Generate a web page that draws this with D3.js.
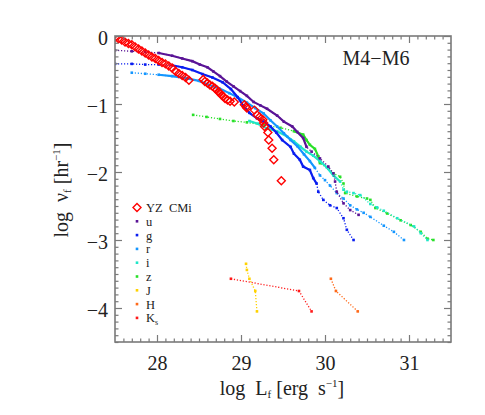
<!DOCTYPE html>
<html>
<head>
<meta charset="utf-8">
<script src="https://cdn.jsdelivr.net/npm/d3@7"></script>
<style>
  body { margin: 0; background: #fff; }
  text { font-family: "Liberation Serif", "DejaVu Serif", serif; fill: #222; }
</style>
</head>
<body>
<svg></svg>
<script>
const width = 485;
const height = 415;

// YZ CMi (red diamonds)
const yzX = [27.50, 27.54, 27.58, 27.62, 27.66, 27.70, 27.74, 27.78, 27.82, 27.86, 27.90, 27.94, 27.98, 28.02, 28.06, 28.10, 28.14, 28.18, 28.22, 28.26, 28.30, 28.34, 28.38,
  28.55, 28.57, 28.60, 28.63, 28.66, 28.69, 28.71, 28.73, 28.75, 28.77, 28.79, 28.81, 28.84, 28.87, 28.92, 29.04, 29.06, 29.07,
  29.16, 29.19, 29.22, 29.26, 29.27, 29.28, 29.32, 29.33, 29.37, 29.39, 29.48];
const yzY = [-0.02, -0.04, -0.06, -0.09, -0.11, -0.13, -0.16, -0.19, -0.22, -0.25, -0.28, -0.31, -0.33, -0.36, -0.39, -0.41, -0.44, -0.47, -0.52, -0.55, -0.58, -0.61, -0.65,
  -0.64, -0.67, -0.69, -0.72, -0.74, -0.77, -0.79, -0.82, -0.84, -0.87, -0.89, -0.92, -0.94, -0.96, -0.97, -1.01, -1.04, -1.06,
  -1.09, -1.16, -1.19, -1.23, -1.28, -1.33, -1.42, -1.53, -1.65, -1.82, -2.13];

// u
const uX = [27.50, 27.70, 27.86, 28.02, 28.18, 28.30, 28.42, 28.51, 28.60, 28.67, 28.75, 28.83, 28.91, 28.99, 29.07, 29.15, 29.23, 29.31, 29.43, 29.51, 29.61, 29.67, 29.74, 29.78, 29.84, 29.94, 30.04, 30.10, 30.12, 30.14, 30.22, 30.30, 30.40];
const uY = [-0.21, -0.225, -0.235, -0.25, -0.29, -0.33, -0.37, -0.42, -0.46, -0.52, -0.59, -0.67, -0.74, -0.81, -0.88, -0.97, -1.02, -1.07, -1.17, -1.26, -1.33, -1.41, -1.50, -1.63, -1.70, -1.80, -1.92, -2.02, -2.14, -2.29, -2.46, -2.56, -2.63];
// g
const gX = [27.50, 27.70, 27.86, 28.02, 28.18, 28.30, 28.42, 28.54, 28.66, 28.78, 28.88, 28.96, 29.03, 29.10, 29.19, 29.27, 29.35, 29.42, 29.49, 29.59, 29.63, 29.70, 29.74, 29.82, 29.86, 29.90, 29.92, 29.98, 30.06, 30.14, 30.22, 30.26, 30.34];
const gY = [-0.41, -0.41, -0.42, -0.42, -0.43, -0.46, -0.50, -0.56, -0.61, -0.68, -0.78, -0.90, -1.03, -1.13, -1.21, -1.26, -1.33, -1.42, -1.53, -1.63, -1.73, -1.82, -1.92, -1.97, -2.09, -2.17, -2.29, -2.41, -2.49, -2.53, -2.68, -2.85, -3.00];
// r
const rX = [27.70, 27.86, 28.02, 28.18, 28.34, 28.50, 28.62, 28.74, 28.86, 28.96, 29.07, 29.17, 29.27, 29.35, 29.43, 29.51, 29.59, 29.67, 29.75, 29.82, 29.88, 29.94, 30.00, 30.06, 30.14, 30.22, 30.30, 30.38, 30.46, 30.54, 30.70, 30.82, 30.94];
const rY = [-0.54, -0.555, -0.57, -0.59, -0.62, -0.66, -0.72, -0.77, -0.84, -0.90, -0.98, -1.06, -1.14, -1.24, -1.33, -1.43, -1.53, -1.62, -1.74, -1.84, -1.94, -2.05, -2.12, -2.20, -2.31, -2.39, -2.49, -2.55, -2.60, -2.66, -2.79, -2.88, -3.00];
// i
const iX = [29.10, 29.20, 29.31, 29.43, 29.55, 29.63, 29.71, 29.78, 29.86, 29.94, 30.02, 30.10, 30.18, 30.22, 30.26, 30.34, 30.42, 30.54, 30.62, 30.70, 30.86, 31.06, 31.14, 31.22];
const iY = [-1.25, -1.29, -1.36, -1.40, -1.48, -1.55, -1.63, -1.70, -1.76, -1.84, -1.93, -2.05, -2.14, -2.26, -2.29, -2.31, -2.34, -2.47, -2.52, -2.57, -2.68, -2.80, -2.90, -3.00];
// z
const zX = [28.43, 28.59, 28.75, 28.91, 29.07, 29.27, 29.47, 29.63, 29.74, 29.78, 29.82, 29.88, 29.92, 29.94, 30.04, 30.10, 30.18, 30.22, 30.24, 30.38, 30.50, 30.54, 30.60, 30.74, 30.90, 31.02, 31.14, 31.22, 31.29];
const zY = [-1.16, -1.19, -1.22, -1.25, -1.27, -1.31, -1.35, -1.40, -1.45, -1.53, -1.60, -1.66, -1.77, -1.87, -1.95, -2.02, -2.07, -2.17, -2.31, -2.36, -2.39, -2.41, -2.53, -2.61, -2.71, -2.78, -2.88, -2.98, -3.00];
// J, H, Ks
const jX = [29.06, 29.07, 29.10, 29.17, 29.19];
const jY = [-3.35, -3.44, -3.57, -3.75, -4.05];
const hX = [30.07, 30.13, 30.39];
const hY = [-3.57, -3.75, -4.05];
const kX = [28.88, 29.69, 29.84];
const kY = [-3.57, -3.75, -4.05];

// ranges where the flare points are packed tightly (drawn as a solid run)
const uDense = [28.0, 29.8];
const gDense = [28.1, 29.9];
const rDense = [28.0, 29.9];
const iDense = [29.1, 30.2];
const zDense = [29.6, 29.95];

const bandNames = ['u', 'g', 'r', 'i', 'z', 'J', 'H', 'K'];
const bandColors = ['#5a1496', '#0a1ef0', '#1496ff', '#20e6c8', '#28e028', '#ffd200', '#ff6a1a', '#ff1a1a'];

const xTicks = [28, 29, 30, 31];
const yTicks = [0, -1, -2, -3, -4];

const svg = d3.select('svg')
  .attr('width', width)
  .attr('height', height);

const x = d3.scaleLinear().domain([27.5, 31.5]).range([115, 451]);
const y = d3.scaleLinear().domain([-4.5, 0]).range([342, 36]);

const zip = (xs, ys) => xs.map((v, k) => [v, ys[k]]);
const line = d3.line().x(d => x(d[0])).y(d => y(d[1]));
const nb = '\u00a0';

svg.append('clipPath').attr('id', 'plot')
  .append('rect')
  .attr('x', x(27.5)).attr('y', y(0))
  .attr('width', x(31.5) - x(27.5)).attr('height', y(-4.5) - y(0));

const plot = svg.append('g').attr('clip-path', 'url(#plot)');

const series = [
  { pts: zip(zX, zY), color: bandColors[4], dense: zDense },
  { pts: zip(iX, iY), color: bandColors[3], dense: iDense },
  { pts: zip(rX, rY), color: bandColors[2], dense: rDense },
  { pts: zip(gX, gY), color: bandColors[1], dense: gDense },
  { pts: zip(uX, uY), color: bandColors[0], dense: uDense },
  { pts: zip(jX, jY), color: bandColors[5], dense: null },
  { pts: zip(hX, hY), color: bandColors[6], dense: null },
  { pts: zip(kX, kY), color: bandColors[7], dense: null }
];

series.forEach(s => {
  plot.append('path')
    .attr('d', line(s.pts))
    .attr('fill', 'none')
    .attr('stroke', s.color)
    .attr('stroke-width', 1.3)
    .attr('stroke-dasharray', '1.2 1.8');
  if (s.dense) {
    const run = s.pts.filter(p => p[0] >= s.dense[0] && p[0] <= s.dense[1]);
    plot.append('path')
      .attr('d', line(run))
      .attr('fill', 'none')
      .attr('stroke', s.color)
      .attr('stroke-width', 2.2);
  }
  plot.selectAll(null)
    .data(s.pts)
    .enter().append('rect')
    .attr('x', d => x(d[0]) - 1.3)
    .attr('y', d => y(d[1]) - 1.3)
    .attr('width', 2.6)
    .attr('height', 2.6)
    .attr('fill', s.color);
});

const diamond = 'M0,-4L4,0L0,4L-4,0Z';
plot.selectAll('.yz')
  .data(zip(yzX, yzY))
  .enter().append('path')
  .attr('class', 'yz')
  .attr('d', diamond)
  .attr('transform', d => `translate(${x(d[0])},${y(d[1])})`)
  .attr('fill', 'none')
  .attr('stroke', '#ff0000')
  .attr('stroke-width', 1.4);

// axes: ticks point inward on all four sides
const frameColor = '#7a7a7a';
const xMinor = d3.range(276, 315).map(v => v / 10).filter(v => xTicks.indexOf(v) < 0);
const yMinor = d3.range(-45, 1).map(v => v / 10).filter(v => yTicks.indexOf(v) < 0);

function addAxis(axis, tx, ty) {
  const g = svg.append('g').attr('transform', `translate(${tx},${ty})`).call(axis);
  g.select('.domain').remove();
  g.selectAll('line').attr('stroke', frameColor).attr('stroke-width', 1.2);
  return g;
}

addAxis(d3.axisBottom(x).tickValues(xMinor).tickSize(-3.5).tickFormat(''), 0, 342);
addAxis(d3.axisTop(x).tickValues(xMinor).tickSize(-3.5).tickFormat(''), 0, 36);
addAxis(d3.axisTop(x).tickValues(xTicks).tickSize(-7).tickFormat(''), 0, 36);
addAxis(d3.axisLeft(y).tickValues(yMinor).tickSize(-3.5).tickFormat(''), 115, 0);
addAxis(d3.axisRight(y).tickValues(yMinor).tickSize(-3.5).tickFormat(''), 451, 0);
addAxis(d3.axisRight(y).tickValues(yTicks).tickSize(-7).tickFormat(''), 451, 0);

const xAxis = addAxis(d3.axisBottom(x).tickValues(xTicks).tickSize(-7).tickPadding(14).tickFormat(d3.format('d')), 0, 342);
xAxis.selectAll('text').attr('font-size', 20).attr('font-family', '"Liberation Serif", serif').attr('fill', '#222');

const yAxis = addAxis(d3.axisLeft(y).tickValues(yTicks).tickSize(-7).tickPadding(7).tickFormat(d3.format('d')), 115, 0);
yAxis.selectAll('text').attr('font-size', 20).attr('font-family', '"Liberation Serif", serif').attr('fill', '#222').attr('dy', '0.4em');

svg.append('rect')
  .attr('x', x(27.5)).attr('y', y(0))
  .attr('width', x(31.5) - x(27.5)).attr('height', y(-4.5) - y(0))
  .attr('fill', 'none')
  .attr('stroke', frameColor)
  .attr('stroke-width', 1.6);

// titles
const xTitle = svg.append('text')
  .attr('x', 282).attr('y', 395)
  .attr('text-anchor', 'middle')
  .attr('font-size', 20);
xTitle.append('tspan').text('log' + nb + nb + 'L');
xTitle.append('tspan').text('f').attr('font-size', 11).attr('dy', 3);
xTitle.append('tspan').text(nb + '[erg' + nb + nb + 's').attr('dy', -3);
xTitle.append('tspan').text('−1').attr('font-size', 11).attr('dy', -8);
xTitle.append('tspan').text(']').attr('dy', 8);

const yTitle = svg.append('text')
  .attr('transform', 'translate(68,190) rotate(-90)')
  .attr('text-anchor', 'middle')
  .attr('font-size', 20);
yTitle.append('tspan').text('log' + nb + nb + 'ν');
yTitle.append('tspan').text('f').attr('font-size', 11).attr('dy', 3);
yTitle.append('tspan').text(nb + '[hr').attr('dy', -3);
yTitle.append('tspan').text('−1').attr('font-size', 11).attr('dy', -8);
yTitle.append('tspan').text(']').attr('dy', 8);

svg.append('text')
  .attr('x', 376).attr('y', 65)
  .attr('text-anchor', 'middle')
  .attr('font-size', 20)
  .text('M4−M6');

// legend
const legendX = 137;
const legendY = 207.5;
const legendStep = 13.8;

svg.append('path')
  .attr('d', diamond)
  .attr('transform', `translate(${legendX},${legendY})`)
  .attr('fill', 'none')
  .attr('stroke', '#ff0000')
  .attr('stroke-width', 1.4);
svg.append('text')
  .attr('x', legendX + 9).attr('y', legendY + 4.5)
  .attr('font-size', 12.5)
  .text('YZ' + nb + nb + 'CMi');

const legendRows = svg.append('g')
  .selectAll('g')
  .data(bandNames)
  .enter().append('g')
  .attr('transform', (d, k) => `translate(${legendX},${legendY + legendStep * (k + 1)})`);

legendRows.append('rect')
  .attr('x', -1.3).attr('y', -1.3)
  .attr('width', 2.6).attr('height', 2.6)
  .attr('fill', (d, k) => bandColors[k]);

const legendText = legendRows.append('text')
  .attr('x', 9).attr('y', 4.5)
  .attr('font-size', 12.5);
legendText.append('tspan').text(d => d);
legendText.filter(d => d === 'K')
  .append('tspan').text('s').attr('font-size', 8).attr('dy', 3);
</script>
</body>
</html>
